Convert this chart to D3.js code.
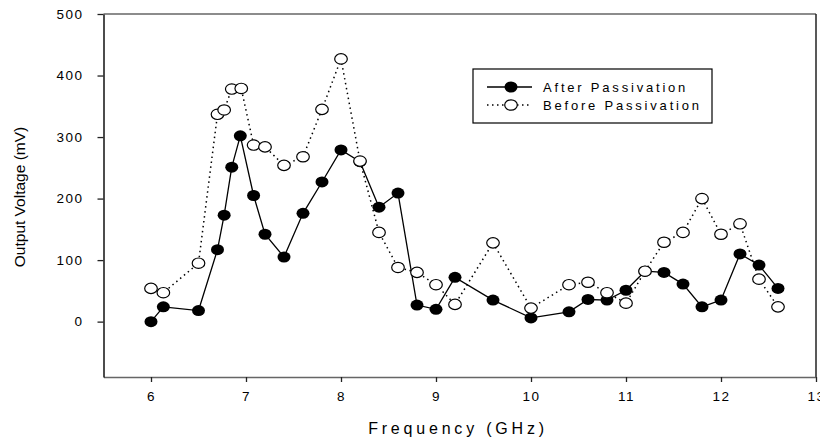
<!DOCTYPE html>
<html><head><meta charset="utf-8">
<script src="https://cdn.jsdelivr.net/npm/d3@7"></script>
<style>
body{margin:0;background:#fff;}
text{font-family:"Liberation Sans",Arial,sans-serif;fill:#000;}
</style></head>
<body><svg id="c" width="820" height="442"></svg>
<script>
const freqAfter = [6.0,6.13,6.5,6.7,6.77,6.85,6.94,7.08,7.2,7.4,7.6,7.8,8.0,8.2,8.4,8.6,8.8,9.0,9.2,9.6,10.0,10.4,10.6,10.8,11.0,11.2,11.4,11.6,11.8,12.0,12.2,12.4,12.6];
const after     = [0,24,18,117,173,251,302,205,142,105,176,227,279,260,186,209,27,20,72,35,6,16,36,35,51,82,80,61,24,35,110,92,54];
const freqBefore = [6.0,6.13,6.5,6.7,6.77,6.85,6.95,7.08,7.2,7.4,7.6,7.8,8.0,8.2,8.4,8.6,8.8,9.0,9.2,9.6,10.0,10.4,10.6,10.8,11.0,11.2,11.4,11.6,11.8,12.0,12.2,12.4,12.6];
const before     = [54,47,95,337,344,378,379,287,284,254,268,345,427,261,145,88,80,60,28,128,22,60,64,47,30,82,129,145,200,142,159,69,24];
const xTicks = [6,7,8,9,10,11,12,13];
const yTicks = [0,100,200,300,400,500];
const seriesNames = ["After Passivation","Before Passivation"];

const svg = d3.select("#c");
const L=103.5, R=816, T=14, B=377;
const x = d3.scaleLinear().domain([5.5,13]).range([L,R]);
const y = d3.scaleLinear().domain([-90,500]).range([B,T]);

// frame
svg.append("line").attr("x1",L).attr("x2",R).attr("y1",T).attr("y2",T).attr("stroke","#666").attr("stroke-width",1.5);
svg.append("line").attr("x1",R).attr("x2",R).attr("y1",T).attr("y2",B).attr("stroke","#222").attr("stroke-width",1.5);

const xAxis = svg.append("g").attr("transform",`translate(0,${B})`)
  .call(d3.axisBottom(x).tickValues(xTicks).tickSize(5).tickSizeOuter(0).tickPadding(9));
xAxis.select(".domain").attr("stroke","#666").attr("stroke-width",1.5);
xAxis.selectAll(".tick line").attr("stroke","#222").attr("stroke-width",1.3);
xAxis.selectAll("text").attr("font-size",13.5).attr("letter-spacing","1.5px").attr("font-family","Liberation Sans, Arial").attr("fill","#000");

const yAxis = svg.append("g").attr("transform",`translate(${L},0)`)
  .call(d3.axisLeft(y).tickValues(yTicks).tickSize(6).tickSizeOuter(0).tickPadding(14));
yAxis.select(".domain").attr("stroke","#111").attr("stroke-width",1.5);
yAxis.selectAll(".tick line").attr("stroke","#222").attr("stroke-width",1.3);
yAxis.selectAll("text").attr("font-size",13.5).attr("letter-spacing","1.5px").attr("font-family","Liberation Sans, Arial").attr("fill","#000");

svg.append("text").attr("x",458).attr("y",434).attr("text-anchor","middle")
  .attr("font-size",16).attr("letter-spacing","3.8px").text("Frequency (GHz)");
svg.append("text").attr("transform","translate(25,197) rotate(-90)").attr("text-anchor","middle")
  .attr("font-size",15.5).text("Output Voltage (mV)");

const dA = freqAfter.map((f,i)=>[f,after[i]]);
const dB = freqBefore.map((f,i)=>[f,before[i]]);
const line = d3.line().x(d=>x(d[0])).y(d=>y(d[1]));

svg.append("path").datum(dB).attr("d",line).attr("fill","none").attr("stroke","#000").attr("stroke-width",1.5).attr("stroke-dasharray","1.5,3.5");
svg.append("path").datum(dA).attr("d",line).attr("fill","none").attr("stroke","#000").attr("stroke-width",1.3);

svg.selectAll(".pa").data(dA).enter().append("ellipse")
  .attr("cx",d=>x(d[0])).attr("cy",d=>y(d[1])).attr("rx",6.5).attr("ry",5.5).attr("fill","#000");
svg.selectAll(".pb").data(dB).enter().append("ellipse")
  .attr("cx",d=>x(d[0])).attr("cy",d=>y(d[1])).attr("rx",6.3).attr("ry",5.2).attr("fill","#fff").attr("stroke","#000").attr("stroke-width",1.2);

// legend
const lg = svg.append("g");
lg.append("rect").attr("x",473).attr("y",69).attr("width",239).attr("height",54).attr("fill","none").attr("stroke","#000").attr("stroke-width",1.2);
lg.append("line").attr("x1",487).attr("x2",532).attr("y1",87).attr("y2",87).attr("stroke","#000").attr("stroke-width",1.3);
lg.append("ellipse").attr("cx",511).attr("cy",87).attr("rx",6.5).attr("ry",5.5).attr("fill","#000");
lg.append("line").attr("x1",487).attr("x2",532).attr("y1",105).attr("y2",105).attr("stroke","#000").attr("stroke-width",1.5).attr("stroke-dasharray","1.5,3.5");
lg.append("ellipse").attr("cx",511).attr("cy",105).attr("rx",6.3).attr("ry",5.2).attr("fill","#fff").attr("stroke","#000").attr("stroke-width",1.2);
lg.selectAll(".lt").data(seriesNames).enter().append("text")
  .attr("x",543).attr("y",(d,i)=>87+i*18).attr("dy","0.35em")
  .attr("font-size",13).attr("letter-spacing","2.8px").text(d=>d);
</script></body></html>
